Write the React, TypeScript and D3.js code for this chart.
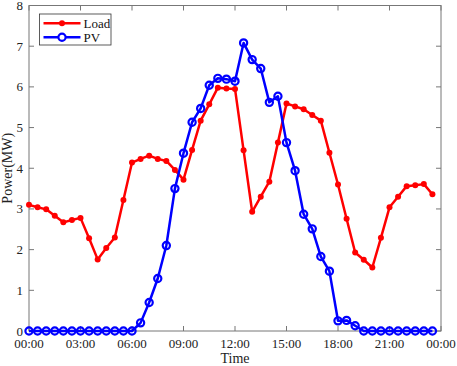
import React, { useEffect, useRef } from "react";
import * as d3 from "d3";

// half-hour samples, 00:00 .. 23:30
const loadValues = [
  3.10, 3.04, 2.99, 2.83, 2.67, 2.73, 2.78, 2.28, 1.76, 2.04, 2.30, 3.22,
  4.14, 4.23, 4.31, 4.23, 4.18, 3.96, 3.72, 4.45, 5.17, 5.57, 5.98, 5.96,
  5.95, 4.44, 2.93, 3.30, 3.67, 4.63, 5.59, 5.52, 5.45, 5.31, 5.17, 4.38,
  3.60, 2.76, 1.93, 1.75, 1.56, 2.29, 3.04, 3.30, 3.56, 3.58, 3.61, 3.36,
];
const pvValues = [
  0, 0, 0, 0, 0, 0, 0, 0, 0, 0, 0, 0,
  0, 0.20, 0.70, 1.29, 2.10, 3.50, 4.37, 5.13, 5.47, 6.04, 6.21, 6.19,
  6.14, 7.08, 6.67, 6.45, 5.62, 5.77, 4.63, 3.94, 2.87, 2.51, 1.83, 1.47,
  0.25, 0.26, 0.13, 0, 0, 0, 0, 0, 0, 0, 0, 0,
];
const hours = loadValues.map((_, i) => i * 0.5);
const xTicks = [0, 3, 6, 9, 12, 15, 18, 21, 24];
const xTickLabels = ["00:00", "03:00", "06:00", "09:00", "12:00", "15:00", "18:00", "21:00", "00:00"];
const yTicks = [0, 1, 2, 3, 4, 5, 6, 7, 8];

const W = 457, H = 366;
const margin = { top: 5.5, right: 16, bottom: 35, left: 29 };
const font = "'Liberation Serif', 'Times New Roman', serif";
const axisColor = "#777";

export default function App() {
  const ref = useRef<SVGSVGElement>(null);

  useEffect(() => {
    const svg = d3.select(ref.current);
    svg.selectAll("*").remove();
    const w = W - margin.left - margin.right;
    const h = H - margin.top - margin.bottom;
    const g = svg.append("g").attr("transform", `translate(${margin.left},${margin.top})`);

    const x = d3.scaleLinear().domain([0, 24]).range([0, w]);
    const y = d3.scaleLinear().domain([0, 8]).range([h, 0]);

    // box
    g.append("rect").attr("width", w).attr("height", h)
      .attr("fill", "none").attr("stroke", axisColor).attr("stroke-width", 1);

    const tickLen = 5;
    xTicks.forEach((t, i) => {
      g.append("line").attr("x1", x(t)).attr("x2", x(t)).attr("y1", h).attr("y2", h - tickLen).attr("stroke", axisColor);
      g.append("line").attr("x1", x(t)).attr("x2", x(t)).attr("y1", 0).attr("y2", tickLen).attr("stroke", axisColor);
      g.append("text").attr("x", x(t)).attr("y", h + 17).attr("text-anchor", "middle")
        .attr("font-family", font).attr("font-size", 13).attr("fill", "#222").text(xTickLabels[i]);
    });
    yTicks.forEach((t) => {
      g.append("line").attr("x1", 0).attr("x2", tickLen).attr("y1", y(t)).attr("y2", y(t)).attr("stroke", axisColor);
      g.append("line").attr("x1", w).attr("x2", w - tickLen).attr("y1", y(t)).attr("y2", y(t)).attr("stroke", axisColor);
      g.append("text").attr("x", -6).attr("y", y(t) + 4.5).attr("text-anchor", "end")
        .attr("font-family", font).attr("font-size", 13).attr("fill", "#222").text(t);
    });

    g.append("text").attr("x", w / 2).attr("y", h + 32).attr("text-anchor", "middle")
      .attr("font-family", font).attr("font-size", 14).attr("fill", "#222").text("Time");
    g.append("text").attr("transform", `translate(${-17},${h / 2}) rotate(-90)`).attr("text-anchor", "middle")
      .attr("font-family", font).attr("font-size", 14).attr("fill", "#222").text("Power(MW)");

    const line = d3.line<number>().x((_, i) => x(hours[i])).y((d) => y(d));

    g.append("path").datum(loadValues).attr("d", line).attr("fill", "none")
      .attr("stroke", "#ff0000").attr("stroke-width", 2.5).attr("stroke-linejoin", "round");
    g.selectAll(".ld").data(loadValues).join("circle").attr("class", "ld")
      .attr("cx", (_, i) => x(hours[i])).attr("cy", (d) => y(d)).attr("r", 3).attr("fill", "#ff0000");

    g.append("path").datum(pvValues).attr("d", line).attr("fill", "none")
      .attr("stroke", "#0000ff").attr("stroke-width", 2.5).attr("stroke-linejoin", "round");
    g.selectAll(".pv").data(pvValues).join("circle").attr("class", "pv")
      .attr("cx", (_, i) => x(hours[i])).attr("cy", (d) => y(d)).attr("r", 3.6)
      .attr("fill", "none").attr("stroke", "#0000ff").attr("stroke-width", 2.2);

    // legend
    const lg = svg.append("g").attr("transform", "translate(39.5,14)");
    lg.append("rect").attr("width", 71.5).attr("height", 31).attr("fill", "#fff").attr("stroke", "#333").attr("stroke-width", 0.8);
    lg.append("line").attr("x1", 4).attr("x2", 41).attr("y1", 9.3).attr("y2", 9.3).attr("stroke", "#ff0000").attr("stroke-width", 2.5);
    lg.append("circle").attr("cx", 22.5).attr("cy", 9.3).attr("r", 3).attr("fill", "#ff0000");
    lg.append("line").attr("x1", 4).attr("x2", 41).attr("y1", 23.3).attr("y2", 23.3).attr("stroke", "#0000ff").attr("stroke-width", 2.5);
    lg.append("circle").attr("cx", 22.5).attr("cy", 23.3).attr("r", 3.6).attr("fill", "#fff").attr("stroke", "#0000ff").attr("stroke-width", 2.2);
    lg.append("text").attr("x", 44).attr("y", 13.8).attr("font-family", font).attr("font-size", 13).attr("fill", "#111").text("Load");
    lg.append("text").attr("x", 44).attr("y", 27.8).attr("font-family", font).attr("font-size", 13).attr("fill", "#111").text("PV");
  }, []);

  return (
    <svg ref={ref} width={W} height={H} style={{ position: "absolute", left: 0, top: 0, background: "#fff" }} />
  );
}
